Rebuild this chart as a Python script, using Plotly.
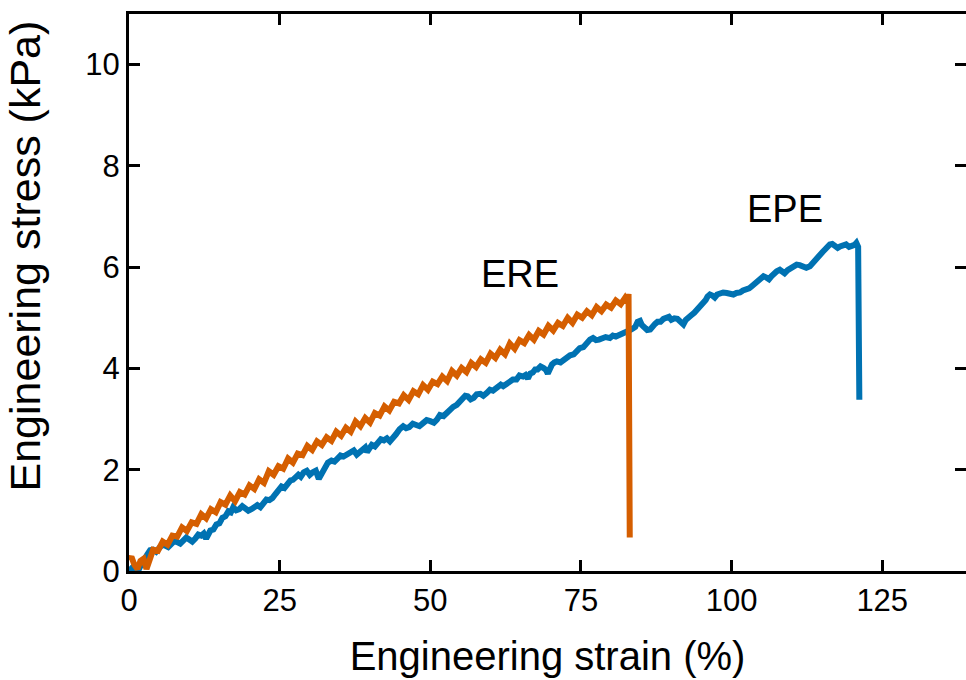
import plotly.graph_objects as go

# EPE (blue): engineering strain (%) and engineering stress (kPa)
epe_strain = [0.0, 0.5, 1.0, 1.5, 2.0, 2.5, 3.0, 3.5, 4.0, 4.5, 5.0, 5.5, 6.0, 6.5, 7.0, 7.5, 8.0, 8.5, 9.0, 9.5,
              10.0, 10.5, 11.0, 11.5, 12.0, 12.4, 12.8, 13.2, 13.5, 14.0, 14.5, 15.0, 15.5, 16.0, 16.5, 16.9,
              17.3, 17.8, 18.3, 18.8, 19.3, 19.8, 20.3, 20.8, 21.3, 21.8, 22.3, 22.8, 23.3, 23.8, 24.3, 24.8,
              25.3, 25.8, 26.3, 26.8, 27.2, 27.6, 28.1, 28.5, 29.0, 29.5, 30.0, 30.5, 31.0, 31.5, 32.0, 32.5,
              33.0, 33.6, 34.1, 34.6, 35.1, 35.6, 36.2, 36.9, 37.3, 37.8, 38.3, 38.8, 39.2, 39.5, 39.9, 40.3,
              40.8, 41.3, 41.8, 42.3, 42.8, 43.3, 43.8, 44.3, 44.9, 45.5, 46.0, 46.5, 47.1, 47.7, 48.2, 48.8,
              49.4, 50.0, 50.6, 51.1, 51.6, 52.2, 52.7, 53.3, 53.8, 54.4, 54.9, 55.4, 55.8, 56.2, 56.7, 57.2,
              57.7, 58.3, 58.8, 59.4, 59.9, 60.4, 60.8, 61.3, 61.7, 62.1, 62.7, 63.2, 63.7, 64.3, 64.8, 65.4,
              65.8, 66.2, 66.6, 67.0, 67.4, 67.8, 68.3, 68.8, 69.2, 69.5, 69.9, 70.2, 70.6, 71.0, 71.6, 72.2,
              72.7, 73.2, 73.8, 74.3, 74.8, 75.4, 75.9, 76.5, 77.0, 77.5, 78.0, 78.5, 79.1, 79.8, 80.3, 80.8,
              81.4, 82.0, 82.5, 83.0, 83.5, 84.0, 84.4, 84.8, 85.1, 85.5, 86.0, 86.5, 86.9, 87.3, 87.7, 88.2,
              88.7, 89.2, 89.6, 90.0, 90.5, 91.0, 91.5, 92.0, 92.4, 92.8, 93.3, 93.8, 94.3, 94.8, 95.2, 95.7,
              96.0, 96.4, 96.8, 97.2, 97.6, 98.0, 98.6, 99.2, 99.7, 100.3, 100.8, 101.4, 101.9, 102.5, 102.9,
              103.3, 103.8, 104.3, 104.8, 105.3, 105.7, 106.2, 106.6, 107.0, 107.5, 108.0, 108.4, 108.8, 109.3,
              109.8, 110.3, 110.8, 111.3, 111.8, 112.4, 113.0, 113.4, 113.8, 114.2, 114.7, 115.1, 115.5, 115.9,
              116.3, 116.7, 117.2, 117.6, 118.0, 118.5, 119.0, 119.5, 120.0, 120.4, 120.7, 121.0, 121.2]
epe_stress = [0.00, 0.06, 0.03, 0.00, 0.12, 0.24, 0.32, 0.41, 0.42, 0.38, 0.46, 0.52, 0.50, 0.47, 0.53, 0.59, 0.57, 0.54, 0.60, 0.66,
              0.62, 0.58, 0.64, 0.72, 0.70, 0.74, 0.64, 0.75, 0.80, 0.82, 0.92, 0.94, 1.05, 1.08, 1.18, 1.16,
              1.26, 1.20, 1.22, 1.28, 1.25, 1.19, 1.22, 1.28, 1.30, 1.26, 1.33, 1.41, 1.40, 1.44, 1.52, 1.62,
              1.67, 1.64, 1.72, 1.79, 1.80, 1.86, 1.90, 1.86, 1.95, 1.98, 1.90, 1.95, 1.98, 1.82, 1.95, 2.02,
              2.14, 2.18, 2.16, 2.22, 2.28, 2.26, 2.30, 2.33, 2.38, 2.30, 2.36, 2.42, 2.44, 2.35, 2.45, 2.49,
              2.46, 2.52, 2.60, 2.58, 2.62, 2.56, 2.62, 2.70, 2.80, 2.86, 2.82, 2.84, 2.91, 2.89, 2.86, 2.92,
              2.98, 2.96, 2.93, 2.99, 3.08, 3.06, 3.12, 3.19, 3.24, 3.28, 3.34, 3.38, 3.46, 3.45, 3.39, 3.42,
              3.49, 3.50, 3.46, 3.52, 3.58, 3.56, 3.60, 3.64, 3.68, 3.65, 3.70, 3.72, 3.78, 3.78, 3.86, 3.84,
              3.87, 3.80, 3.90, 3.92, 3.98, 3.98, 4.04, 4.01, 3.97, 3.90, 4.02, 4.08, 4.12, 4.14, 4.12, 4.18,
              4.24, 4.26, 4.28, 4.34, 4.40, 4.42, 4.50, 4.57, 4.60, 4.56, 4.57, 4.60, 4.62, 4.60, 4.65, 4.63,
              4.66, 4.67, 4.72, 4.75, 4.78, 4.82, 4.92, 4.94, 4.86, 4.80, 4.76, 4.77, 4.84, 4.88, 4.92, 4.92,
              4.98, 5.00, 5.02, 4.96, 4.99, 4.98, 4.94, 4.87, 4.96, 5.02, 5.05, 5.10, 5.16, 5.22, 5.30, 5.35,
              5.42, 5.46, 5.44, 5.40, 5.46, 5.48, 5.50, 5.49, 5.47, 5.46, 5.49, 5.50, 5.54, 5.56, 5.58,
              5.62, 5.68, 5.72, 5.77, 5.82, 5.80, 5.76, 5.82, 5.88, 5.92, 5.95, 5.92, 5.88, 5.94,
              5.98, 6.03, 6.05, 6.04, 6.02, 5.99, 6.02, 6.08, 6.12, 6.20, 6.28, 6.30, 6.35, 6.41,
              6.45, 6.46, 6.42, 6.38, 6.41, 6.44, 6.45, 6.40, 6.42, 6.44, 6.48, 6.40, 3.38]

# ERE (orange)
ere_strain = [0.0, 0.4, 0.9, 1.4, 1.9, 2.4, 2.9, 3.4, 4.0, 4.8, 5.6, 6.4, 7.2, 8.0, 8.8, 9.6, 10.4, 11.2, 12.0,
              12.8, 13.6, 14.4, 15.2, 16.0, 16.8, 17.6, 18.4, 19.2, 20.0, 20.8, 21.6, 22.4, 23.2, 24.0, 24.8,
              25.6, 26.4, 27.2, 28.0, 28.8, 29.6, 30.4, 31.2, 32.0, 32.8, 33.6, 34.4, 35.2, 36.0, 36.8, 37.6,
              38.4, 39.2, 40.0, 40.8, 41.6, 42.4, 43.2, 44.0, 44.8, 45.6, 46.4, 47.2, 48.0, 48.8, 49.6, 50.4,
              51.2, 52.0, 52.8, 53.6, 54.4, 55.2, 56.0, 56.8, 57.6, 58.4, 59.2, 60.0, 60.8, 61.6, 62.4, 63.2,
              64.0, 64.8, 65.6, 66.4, 67.2, 68.0, 68.8, 69.6, 70.4, 71.2, 72.0, 72.8, 73.6, 74.4, 75.2, 76.0,
              76.8, 77.6, 78.4, 79.2, 80.0, 80.8, 81.6, 82.3, 82.7, 82.9, 83.1]
ere_stress = [0.22, 0.28, 0.12, 0.04, 0.20, 0.24, 0.04, 0.22, 0.42, 0.40, 0.58, 0.52, 0.70, 0.68, 0.86, 0.79, 0.96, 0.93, 1.12,
              1.04, 1.22, 1.16, 1.36, 1.31, 1.49, 1.38, 1.56, 1.51, 1.69, 1.62, 1.81, 1.74, 1.97, 1.90, 2.07,
              2.02, 2.22, 2.14, 2.32, 2.29, 2.47, 2.39, 2.56, 2.49, 2.64, 2.57, 2.75, 2.67, 2.83, 2.75, 2.95,
              2.86, 3.02, 2.93, 3.12, 3.07, 3.25, 3.17, 3.34, 3.31, 3.47, 3.38, 3.55, 3.49, 3.67, 3.58, 3.74,
              3.69, 3.84, 3.75, 3.95, 3.86, 4.01, 3.93, 4.11, 4.03, 4.18, 4.11, 4.29, 4.21, 4.37, 4.28, 4.49,
              4.39, 4.56, 4.50, 4.66, 4.57, 4.74, 4.67, 4.84, 4.75, 4.90, 4.84, 5.00, 4.90, 5.06, 5.00, 5.13,
              5.05, 5.21, 5.13, 5.26, 5.20, 5.34, 5.27, 5.39, 5.30, 5.47, 0.66]

x_ticks = [0, 25, 50, 75, 100, 125]
y_ticks = [0, 2, 4, 6, 8, 10]

BLUE = "#0072B2"
ORANGE = "#D55E00"
FONT = "Liberation Sans, Arial, sans-serif"

fig = go.Figure()
fig.add_trace(go.Scatter(x=epe_strain, y=epe_stress, mode="lines",
                         line=dict(color=BLUE, width=6), name="EPE", showlegend=False))
fig.add_trace(go.Scatter(x=ere_strain, y=ere_stress, mode="lines",
                         line=dict(color=ORANGE, width=6), name="ERE", showlegend=False))
fig.add_trace(go.Scatter(x=[], y=[], yaxis="y2", showlegend=False))

fig.update_layout(
    width=966, height=680,
    margin=dict(l=129, r=0, t=14, b=109),
    plot_bgcolor="white", paper_bgcolor="white",
    font=dict(family=FONT, color="black"),
    xaxis=dict(range=[0, 138.9], tickvals=x_ticks, ticks="inside", ticklen=11, tickwidth=3,
               tickcolor="black", showline=True, linewidth=3, linecolor="black", mirror="ticks",
               showgrid=False, zeroline=False, tickfont=dict(size=31),
               title=dict(text="Engineering strain (%)", font=dict(size=40), standoff=25)),
    yaxis=dict(range=[0, 11], tickvals=y_ticks, ticks="inside", ticklen=11, tickwidth=3,
               tickcolor="black", showline=True, linewidth=3, linecolor="black", mirror=False,
               showgrid=False, zeroline=False, tickfont=dict(size=31)),
    yaxis2=dict(range=[0, 11], tickvals=y_ticks, ticks="inside", ticklen=11, tickwidth=3,
                tickcolor="black", overlaying="y", side="right", showline=False,
                showticklabels=False, showgrid=False, zeroline=False),
    annotations=[
        dict(text="Engineering stress (kPa)", xref="paper", yref="paper", x=-0.124, y=0.565,
             xanchor="center", yanchor="middle", textangle=-90, showarrow=False,
             font=dict(size=43)),
        dict(text="EPE", xref="x", yref="y", x=108.9, y=7.15, showarrow=False,
             xanchor="center", yanchor="middle", font=dict(size=38)),
        dict(text="ERE", xref="x", yref="y", x=64.9, y=5.86, showarrow=False,
             xanchor="center", yanchor="middle", font=dict(size=38)),
    ],
)

fig.write_html("out.html", config={"displayModeBar": False},
               post_script="document.body.style.margin='0px';")
